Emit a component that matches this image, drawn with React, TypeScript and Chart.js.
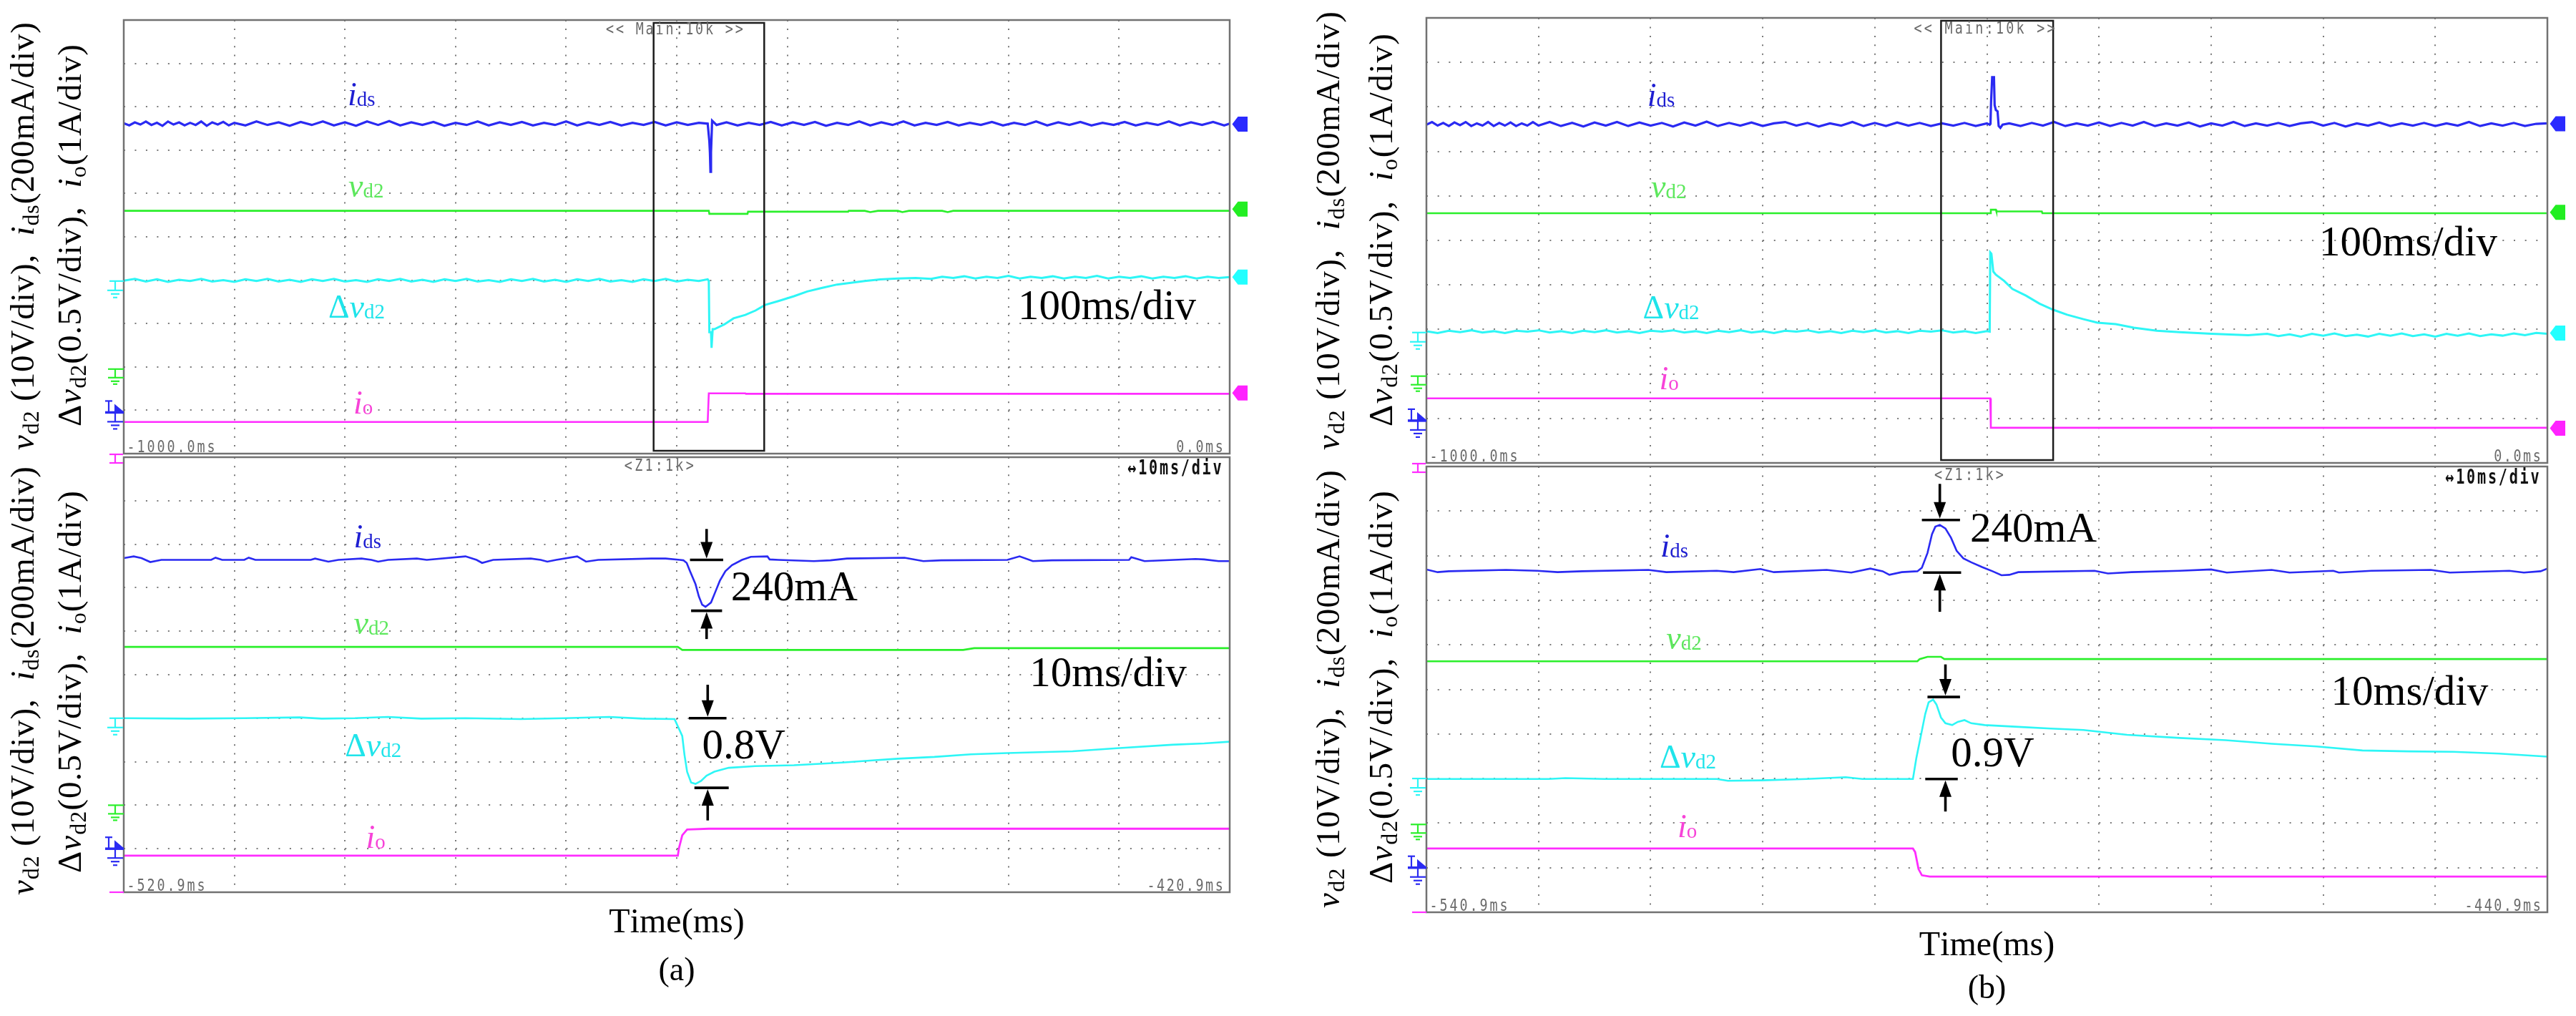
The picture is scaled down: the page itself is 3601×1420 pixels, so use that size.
import React, { useEffect, useRef } from "react";
import { Chart, registerables } from "chart.js";

Chart.register(...registerables);

type P = [number, number];

// ---------------- axis ticks (ms on x, screen divisions on y) ----------------
const xTicksMain = [-1000, -900, -800, -700, -600, -500, -400, -300, -200, -100, 0];
const xTicksZoomA = [-520.9, -510.9, -500.9, -490.9, -480.9, -470.9, -460.9, -450.9, -440.9, -430.9, -420.9];
const xTicksZoomB = [-540.9, -530.9, -520.9, -510.9, -500.9, -490.9, -480.9, -470.9, -460.9, -450.9, -440.9];
const yDivTicks = [0, 1, 2, 3, 4, 5, 6, 7, 8, 9, 10];

// ---------------- (a) main window: -1000 ms .. 0 ms ----------------
const aTopIds: P[] = [
  [-1000, 7.62], [-995, 7.57], [-990, 7.64], [-985, 7.59], [-980, 7.66], [-975, 7.58], [-970, 7.63], [-965, 7.56], [-960, 7.66], [-955, 7.59],
  [-950, 7.64], [-945, 7.57], [-940, 7.63], [-935, 7.58], [-930, 7.66], [-925, 7.56], [-920, 7.64], [-915, 7.59], [-910, 7.65], [-905, 7.57],
  [-900, 7.63], [-890, 7.57], [-880, 7.66], [-870, 7.58], [-860, 7.64], [-850, 7.56], [-840, 7.65], [-830, 7.58], [-820, 7.66], [-810, 7.57],
  [-800, 7.64], [-790, 7.56], [-780, 7.66], [-770, 7.58], [-760, 7.67], [-750, 7.57], [-740, 7.64], [-730, 7.58], [-720, 7.65], [-710, 7.56],
  [-700, 7.63], [-690, 7.58], [-680, 7.66], [-670, 7.57], [-660, 7.64], [-650, 7.58], [-640, 7.65], [-630, 7.57], [-620, 7.63], [-610, 7.58],
  [-600, 7.66], [-590, 7.57], [-580, 7.64], [-570, 7.58], [-560, 7.65], [-550, 7.57], [-540, 7.63], [-530, 7.58], [-520, 7.65], [-510, 7.57],
  [-500, 7.64], [-490, 7.58], [-480, 7.63], [-472, 7.61], [-470.5, 7.2], [-470, 6.95], [-469.5, 6.5], [-469, 6.95], [-468.5, 7.3], [-468, 7.68],
  [-464, 7.58], [-455, 7.64], [-445, 7.57], [-435, 7.63], [-425, 7.58], [-415, 7.65], [-405, 7.57], [-395, 7.64], [-385, 7.58], [-375, 7.65],
  [-365, 7.56], [-355, 7.63], [-345, 7.58], [-335, 7.66], [-325, 7.57], [-315, 7.64], [-305, 7.58], [-295, 7.66], [-285, 7.57], [-275, 7.63],
  [-265, 7.58], [-255, 7.65], [-245, 7.57], [-235, 7.63], [-225, 7.58], [-215, 7.65], [-205, 7.57], [-195, 7.63], [-185, 7.58], [-175, 7.66],
  [-165, 7.57], [-155, 7.64], [-145, 7.58], [-135, 7.65], [-125, 7.57], [-115, 7.63], [-105, 7.58], [-95, 7.65], [-85, 7.57], [-75, 7.63],
  [-65, 7.58], [-55, 7.66], [-45, 7.57], [-35, 7.64], [-25, 7.58], [-15, 7.65], [-5, 7.57], [0, 7.61],
];
const aTopVd2: P[] = [
  [-1000, 5.6], [-471, 5.6], [-470.5, 5.53], [-436, 5.53], [-435.5, 5.58], [-345, 5.58], [-344.5, 5.6], [-330, 5.6], [-325, 5.57],
  [-318, 5.6], [-300, 5.6], [-296, 5.57], [-290, 5.6], [-260, 5.6], [-255, 5.57], [-250, 5.6], [0, 5.6],
];
const aTopDvd2: P[] = [
  [-1000, 3.99], [-990, 4.03], [-980, 3.97], [-970, 4.02], [-960, 3.96], [-950, 4.01], [-940, 3.98], [-930, 4.03], [-920, 3.97], [-910, 4.0],
  [-900, 3.96], [-890, 4.02], [-880, 3.98], [-870, 4.03], [-860, 3.97], [-850, 4.01], [-840, 3.96], [-830, 4.02], [-820, 3.98], [-810, 4.03],
  [-800, 3.97], [-790, 4.0], [-780, 3.96], [-770, 4.02], [-760, 3.98], [-750, 4.03], [-740, 3.97], [-730, 4.01], [-720, 3.96], [-710, 4.02],
  [-700, 3.98], [-690, 4.03], [-680, 3.97], [-670, 4.0], [-660, 3.96], [-650, 4.02], [-640, 3.98], [-630, 4.03], [-620, 3.97], [-610, 4.01],
  [-600, 3.96], [-590, 4.02], [-580, 3.98], [-570, 4.03], [-560, 3.97], [-550, 4.0], [-540, 3.96], [-530, 4.02], [-520, 3.98], [-510, 4.03],
  [-500, 3.97], [-490, 4.01], [-480, 3.98], [-472, 4.02], [-471, 3.98], [-470.5, 2.8], [-469, 2.8], [-468.5, 2.44], [-467.5, 2.87], [-465.9, 2.87],
  [-457, 2.98], [-448.6, 3.12], [-438, 3.2], [-428.8, 3.3], [-420, 3.43], [-408, 3.52], [-394, 3.63], [-382, 3.74], [-369, 3.82], [-355, 3.9],
  [-345, 3.93], [-330, 3.98], [-316, 4.02], [-300, 4.04], [-284, 4.05], [-270, 4.03], [-260, 4.08], [-250, 4.05], [-240, 4.09], [-230, 4.04],
  [-220, 4.08], [-210, 4.05], [-200, 4.1], [-190, 4.04], [-180, 4.08], [-170, 4.05], [-160, 4.09], [-150, 4.04], [-140, 4.08], [-130, 4.05],
  [-120, 4.1], [-110, 4.04], [-100, 4.08], [-90, 4.05], [-80, 4.09], [-70, 4.04], [-60, 4.08], [-50, 4.05], [-40, 4.09], [-30, 4.04],
  [-20, 4.08], [-10, 4.05], [0, 4.07],
];
const aTopIo: P[] = [[-1000, 0.73], [-472, 0.73], [-471, 1.39], [-438, 1.39], [-437.5, 1.38], [0, 1.38]];

// ---------------- (a) zoom window: -520.9 ms .. -420.9 ms ----------------
const aBotIds: P[] = [
  [-520.9, 7.68], [-520, 7.72], [-519.3, 7.68], [-518.5, 7.59], [-517.5, 7.64], [-513, 7.64], [-512.6, 7.69], [-512, 7.64], [-510, 7.64],
  [-509.6, 7.69], [-509, 7.64], [-504, 7.64], [-503.6, 7.67], [-502.4, 7.6], [-501.5, 7.64], [-499.4, 7.67], [-498.5, 7.64], [-497.9, 7.6],
  [-497, 7.64], [-494.4, 7.67], [-493.5, 7.64], [-490, 7.72], [-489, 7.64], [-488.5, 7.57], [-487.5, 7.64], [-484.1, 7.67], [-483.2, 7.64],
  [-482.6, 7.6], [-481.8, 7.64], [-479.9, 7.72], [-479.1, 7.6], [-478, 7.64], [-473.2, 7.67], [-471.9, 7.67], [-470.6, 7.64], [-470.3, 7.63],
  [-470, 7.57], [-469.7, 7.38], [-469.2, 7.08], [-468.9, 6.8], [-468.6, 6.61], [-468.3, 6.56], [-467.8, 6.66], [-467.4, 6.91], [-467, 7.16],
  [-466.5, 7.38], [-465.9, 7.52], [-465, 7.64], [-464.2, 7.71], [-462.7, 7.72], [-462.5, 7.65], [-461.7, 7.64], [-458.5, 7.61], [-457, 7.63],
  [-455.5, 7.67], [-450.3, 7.69], [-448.6, 7.61], [-447, 7.63], [-441, 7.64], [-439.9, 7.72], [-438.7, 7.61], [-437, 7.63], [-430, 7.64],
  [-429.8, 7.7], [-428.6, 7.61], [-424, 7.66], [-423.2, 7.65], [-421.9, 7.61], [-420.9, 7.61],
];
const aBotVd2: P[] = [[-520.9, 5.64], [-470.8, 5.64], [-470.4, 5.57], [-445, 5.57], [-444, 5.61], [-420.9, 5.61]];
const aBotDvd2: P[] = [
  [-520.9, 4.0], [-515, 3.99], [-510, 4.0], [-505, 4.02], [-503, 3.99], [-500, 4.0], [-497, 4.03], [-494, 3.99], [-490, 4.0], [-485, 3.98],
  [-481, 4.0], [-477, 4.03], [-474, 3.99], [-471.1, 3.98], [-470.4, 3.59], [-470.2, 3.16], [-469.96, 2.77], [-469.6, 2.52], [-469.2, 2.49],
  [-468.7, 2.56], [-468.2, 2.68], [-467.5, 2.77], [-466.2, 2.86], [-463.8, 2.9], [-460.3, 2.92], [-455.9, 2.98], [-453.2, 3.03], [-450.9, 3.07],
  [-447.6, 3.11], [-444.3, 3.17], [-441, 3.2], [-435.1, 3.24], [-431.1, 3.31], [-426.1, 3.39], [-423.2, 3.42], [-420.9, 3.46],
];
const aBotIo: P[] = [[-520.9, 0.84], [-470.8, 0.84], [-470.7, 1.01], [-470.4, 1.31], [-469.96, 1.44], [-468, 1.46], [-420.9, 1.46]];

// ---------------- (b) main window ----------------
const bTopIds: P[] = [
  [-1000, 7.6], [-995, 7.66], [-990, 7.58], [-985, 7.64], [-980, 7.57], [-975, 7.65], [-970, 7.59], [-965, 7.66], [-960, 7.57], [-955, 7.63],
  [-950, 7.58], [-945, 7.66], [-940, 7.57], [-935, 7.64], [-930, 7.58], [-925, 7.65], [-920, 7.57], [-915, 7.63], [-910, 7.58], [-905, 7.66],
  [-900, 7.58], [-890, 7.66], [-880, 7.57], [-870, 7.64], [-860, 7.56], [-850, 7.65], [-840, 7.58], [-830, 7.66], [-820, 7.57], [-810, 7.65],
  [-800, 7.58], [-790, 7.64], [-780, 7.56], [-770, 7.65], [-760, 7.58], [-750, 7.67], [-740, 7.57], [-730, 7.64], [-720, 7.58], [-710, 7.65],
  [-700, 7.57], [-690, 7.63], [-680, 7.66], [-670, 7.58], [-660, 7.64], [-650, 7.56], [-640, 7.63], [-630, 7.58], [-620, 7.66], [-610, 7.57],
  [-600, 7.64], [-590, 7.57], [-580, 7.65], [-570, 7.58], [-560, 7.64], [-550, 7.57], [-540, 7.63], [-530, 7.58], [-520, 7.64], [-510, 7.57],
  [-500, 7.63], [-497.5, 7.6], [-496.8, 7.62], [-496.3, 8.1], [-495.3, 8.67], [-493.7, 8.67], [-493.1, 8.04], [-492, 7.93], [-490.5, 7.9],
  [-489.5, 7.57], [-488, 7.53], [-486, 7.6], [-480, 7.63], [-470, 7.57], [-460, 7.64], [-450, 7.58], [-440, 7.66], [-430, 7.57], [-420, 7.63],
  [-410, 7.58], [-400, 7.65], [-390, 7.57], [-380, 7.64], [-370, 7.58], [-360, 7.66], [-350, 7.57], [-340, 7.63], [-330, 7.58], [-320, 7.65],
  [-310, 7.56], [-300, 7.63], [-290, 7.58], [-280, 7.66], [-270, 7.57], [-260, 7.63], [-250, 7.58], [-240, 7.64], [-230, 7.57], [-220, 7.63],
  [-210, 7.66], [-200, 7.58], [-190, 7.64], [-180, 7.56], [-170, 7.63], [-160, 7.58], [-150, 7.65], [-140, 7.57], [-130, 7.63], [-120, 7.58],
  [-110, 7.64], [-100, 7.57], [-90, 7.63], [-80, 7.58], [-70, 7.66], [-60, 7.57], [-50, 7.63], [-40, 7.58], [-30, 7.64], [-20, 7.57],
  [-10, 7.62], [0, 7.63],
];
const bTopVd2: P[] = [[-1000, 5.61], [-497, 5.61], [-496.5, 5.69], [-492, 5.69], [-491.5, 5.65], [-451, 5.65], [-450.5, 5.61], [0, 5.61]];
const bTopDvd2: P[] = [
  [-1000, 2.96], [-990, 2.92], [-980, 2.97], [-970, 2.94], [-960, 2.98], [-950, 2.93], [-940, 2.96], [-930, 2.92], [-920, 2.97], [-910, 2.95],
  [-900, 2.98], [-890, 2.93], [-880, 2.96], [-870, 2.92], [-860, 2.97], [-850, 2.94], [-840, 2.98], [-830, 2.93], [-820, 2.96], [-810, 2.92],
  [-800, 2.97], [-790, 2.95], [-780, 2.98], [-770, 2.93], [-760, 2.96], [-750, 2.92], [-740, 2.97], [-730, 2.94], [-720, 2.98], [-710, 2.93],
  [-700, 2.96], [-690, 2.92], [-680, 2.97], [-670, 2.95], [-660, 2.98], [-650, 2.93], [-640, 2.96], [-630, 2.92], [-620, 2.97], [-610, 2.94],
  [-600, 2.98], [-590, 2.93], [-580, 2.96], [-570, 2.92], [-560, 2.97], [-550, 2.95], [-540, 2.98], [-530, 2.93], [-520, 2.96], [-510, 2.92],
  [-500, 2.96], [-497.5, 2.95], [-497, 4.73], [-496, 4.7], [-495.8, 4.66], [-494.3, 4.3], [-492, 4.23], [-484.6, 4.09], [-477.3, 3.91],
  [-465.2, 3.76], [-453.1, 3.58], [-440.7, 3.44], [-428.4, 3.33], [-413.8, 3.23], [-401.4, 3.15], [-385.1, 3.12], [-368.9, 3.04],
  [-348.4, 2.97], [-328, 2.94], [-299.5, 2.9], [-266.9, 2.87], [-250, 2.9], [-240, 2.85], [-230, 2.89], [-220, 2.84], [-210, 2.9],
  [-200, 2.86], [-190, 2.91], [-180, 2.85], [-170, 2.88], [-160, 2.84], [-150, 2.9], [-140, 2.86], [-130, 2.91], [-120, 2.85], [-110, 2.89],
  [-100, 2.84], [-90, 2.9], [-80, 2.86], [-70, 2.91], [-60, 2.85], [-50, 2.89], [-40, 2.86], [-30, 2.91], [-20, 2.87], [-10, 2.92], [0, 2.9],
];
const bTopIo: P[] = [[-1000, 1.45], [-497, 1.45], [-496.5, 0.79], [0, 0.79]];

// ---------------- (b) zoom window: -540.9 ms .. -440.9 ms ----------------
const bBotIds: P[] = [
  [-540.9, 7.69], [-539.9, 7.63], [-538.9, 7.65], [-533.8, 7.68], [-531, 7.66], [-529.2, 7.63], [-527, 7.65], [-521.1, 7.68], [-519.5, 7.63],
  [-515, 7.66], [-513.5, 7.63], [-511.1, 7.7], [-509.9, 7.63], [-505.2, 7.68], [-503, 7.62], [-501.3, 7.71], [-500.2, 7.65], [-499.6, 7.57],
  [-498.5, 7.63], [-497.1, 7.65], [-496.7, 7.73], [-496.2, 8.06], [-495.8, 8.48], [-495.5, 8.65], [-495.1, 8.69], [-494.6, 8.61],
  [-494.1, 8.4], [-493.6, 8.11], [-493, 7.94], [-492.3, 7.85], [-491.3, 7.74], [-490.4, 7.65], [-489.6, 7.56], [-488.9, 7.57], [-488.1, 7.63],
  [-481.3, 7.66], [-480.1, 7.6], [-478, 7.63], [-473.7, 7.66], [-470.9, 7.69], [-469.5, 7.62], [-465.5, 7.68], [-463.9, 7.62], [-460, 7.66],
  [-459.5, 7.62], [-456.6, 7.66], [-451.3, 7.68], [-449.6, 7.62], [-444.3, 7.66], [-443, 7.62], [-441.5, 7.65], [-440.9, 7.71],
];
const bBotVd2: P[] = [[-540.9, 5.63], [-497.1, 5.63], [-496.9, 5.68], [-496.2, 5.73], [-495, 5.73], [-494.7, 5.68], [-440.9, 5.68]];
const bBotDvd2: P[] = [
  [-540.9, 2.99], [-530, 2.99], [-528.5, 3.01], [-525, 2.99], [-515, 2.99], [-514, 2.95], [-511, 2.96], [-507, 2.99], [-503.5, 3.03],
  [-502, 2.99], [-497.5, 2.99], [-497.2, 3.45], [-496.8, 3.95], [-496.4, 4.45], [-496.1, 4.71], [-495.7, 4.77], [-495.4, 4.66], [-495, 4.37],
  [-494.6, 4.24], [-494, 4.2], [-493.5, 4.27], [-492.9, 4.31], [-492.3, 4.24], [-491.1, 4.2], [-488.1, 4.16], [-485.2, 4.12], [-482.3, 4.09],
  [-478.4, 3.98], [-473.7, 3.91], [-469.6, 3.86], [-465.5, 3.78], [-461.5, 3.72], [-457.4, 3.63], [-453.3, 3.61], [-449.3, 3.6],
  [-445.2, 3.56], [-440.9, 3.49],
];
const bBotIo: P[] = [[-540.9, 1.43], [-497.5, 1.43], [-497.3, 1.35], [-497, 0.97], [-496.7, 0.83], [-496, 0.8], [-440.9, 0.8]];

// channel reference markers (right edge of main window), in divisions
const aTopMarkerLevels = [7.6, 5.64, 4.07, 1.4];
const bTopMarkerLevels = [7.62, 5.63, 2.92, 0.78];

// ---------------- styles ----------------
const SERIF = '"Liberation Serif","Times New Roman",serif';
const MONO = '"DejaVu Sans Mono",monospace';
const C = { ids: "#2a2af2", vd2: "#2bef2b", dvd2: "#2ef6f6", io: "#ff2cff" };
const LC = { ids: "#1e1ed2", vd2: "#5de85d", dvd2: "#1fe4ea", io: "#f743d8" };
const MARKER_COLORS = ["#2a2aff", "#22ee22", "#22ffff", "#ff22ff"];
const GRID = "#7a7a7a";
const FRAME = "#727272";
const GRAY_TXT = "#6a6a6a";

type Run = { t: string; size: number; italic?: boolean; bold?: boolean; dy?: number; color?: string; family?: string };
const fontOf = (r: Run) => `${r.italic ? "italic " : ""}${r.bold ? "bold " : ""}${r.size}px ${r.family || SERIF}`;

function drawRuns(
  ctx: CanvasRenderingContext2D,
  runs: Run[],
  x: number,
  y: number,
  opt: { rotate?: boolean; target?: number; align?: string; baseline?: CanvasTextBaseline } = {}
) {
  ctx.save();
  ctx.translate(x, y);
  if (opt.rotate) ctx.rotate(-Math.PI / 2);
  ctx.textAlign = "left";
  ctx.textBaseline = opt.baseline || "alphabetic";
  const items: { ch: string; w: number; r: Run }[] = [];
  let total = 0;
  for (const r of runs) {
    ctx.font = fontOf(r);
    for (const ch of Array.from(r.t)) {
      const w = ctx.measureText(ch).width;
      items.push({ ch, w, r });
      total += w;
    }
  }
  const gap = opt.target && items.length > 1 ? (opt.target - total) / (items.length - 1) : 0;
  const full = total + gap * (items.length - 1);
  let cx = opt.align === "center" ? -full / 2 : opt.align === "right" ? -full : 0;
  for (const it of items) {
    ctx.font = fontOf(it.r);
    ctx.fillStyle = it.r.color || "#000";
    ctx.fillText(it.ch, cx, it.r.dy || 0);
    cx += it.w + gap;
  }
  ctx.restore();
}

function drawMono(
  ctx: CanvasRenderingContext2D,
  text: string,
  x: number,
  y: number,
  adv: number,
  align: string,
  font: string,
  color: string,
  baseline: CanvasTextBaseline,
  squeeze: number
) {
  ctx.save();
  ctx.font = font;
  ctx.fillStyle = color;
  ctx.textBaseline = baseline;
  ctx.textAlign = "center";
  const chars = Array.from(text);
  const w = adv * chars.length;
  const sx = align === "left" ? x : align === "right" ? x - w : x - w / 2;
  chars.forEach((c, i) => {
    ctx.save();
    ctx.translate(sx + adv * (i + 0.5), y);
    ctx.scale(squeeze, 1);
    ctx.fillText(c, 0, 0);
    ctx.restore();
  });
  ctx.restore();
}

const lblIds: Run[] = [{ t: "i", size: 46, italic: true, color: LC.ids }, { t: "ds", size: 29, color: LC.ids, dy: 1 }];
const lblVd2: Run[] = [{ t: "v", size: 46, italic: true, color: LC.vd2 }, { t: "d2", size: 29, color: LC.vd2, dy: 1 }];
const lblDvd2: Run[] = [
  { t: "Δ", size: 46, color: LC.dvd2 },
  { t: "v", size: 46, italic: true, color: LC.dvd2 },
  { t: "d2", size: 29, color: LC.dvd2, dy: 1 },
];
const lblIo: Run[] = [{ t: "i", size: 46, italic: true, color: LC.io }, { t: "o", size: 29, color: LC.io, dy: 1 }];

const AF = 47;
const AS = 32;
const axisLine1: Run[] = [
  { t: "v", size: AF, italic: true }, { t: "d2", size: AS, dy: 7 }, { t: " (10V/div),  ", size: AF },
  { t: "i", size: AF, italic: true }, { t: "ds", size: AS, dy: 7 }, { t: "(200mA/div)", size: AF },
];
const axisLine2: Run[] = [
  { t: "Δ", size: AF }, { t: "v", size: AF, italic: true }, { t: "d2", size: AS, dy: 7 }, { t: "(0.5V/div),  ", size: AF },
  { t: "i", size: AF, italic: true }, { t: "o", size: AS, dy: 7 }, { t: "(1A/div)", size: AF },
];

type Arrow = { x: number; top: number; bar1: number; bar1x: number[]; bar2: number; bar2x: number[]; bottom: number };
type Ground = { kind: string; color: string; y?: number };
type Decor = {
  labels: { runs: Run[]; x: number; y: number }[];
  bigTexts: { t: string; x: number; y: number }[];
  header: { t: string; x: number; dy: number; adv: number };
  rightHeader?: string;
  leftTime: string;
  rightTime: string;
  markers?: number[];
  grounds: Ground[];
  box?: number[];
  arrows?: Arrow[];
  axis: { l1x: number; l1y: number; l1len: number; l2x: number; l2y: number; l2len: number };
  footer?: { t1dy: number; t2dy: number; t2: string };
};

function makeDecor(d: Decor) {
  return {
    id: "scopeDecor",
    afterDraw(chart: any) {
      const ctx: CanvasRenderingContext2D = chart.ctx;
      const a = chart.chartArea;
      const xs = chart.scales.x;
      const ys = chart.scales.y;
      const X = (v: number) => xs.getPixelForValue(v);
      const Y = (v: number) => ys.getPixelForValue(v);
      ctx.save();

      if (d.box) {
        ctx.strokeStyle = "#1c1c1c";
        ctx.lineWidth = 2.5;
        const x0 = X(d.box[0]);
        const x1 = X(d.box[1]);
        ctx.strokeRect(x0, a.top + 4, x1 - x0, a.bottom - a.top - 8);
      }

      ctx.strokeStyle = FRAME;
      ctx.lineWidth = 2.5;
      ctx.strokeRect(a.left, a.top, a.right - a.left, a.bottom - a.top);

      if (d.markers) {
        d.markers.forEach((lv, i) => {
          const y = Y(lv);
          const x0 = a.right + 3.5;
          ctx.fillStyle = MARKER_COLORS[i];
          ctx.beginPath();
          ctx.moveTo(x0, y);
          ctx.lineTo(x0 + 8, y - 10.5);
          ctx.lineTo(x0 + 21.5, y - 10.5);
          ctx.lineTo(x0 + 21.5, y + 10.5);
          ctx.lineTo(x0 + 8, y + 10.5);
          ctx.closePath();
          ctx.fill();
        });
      }

      const L = a.left;
      const hl = (y: number, x0: number, x1: number, w = 2.2) => {
        ctx.lineWidth = w;
        ctx.beginPath();
        ctx.moveTo(x0, y);
        ctx.lineTo(x1, y);
        ctx.stroke();
      };
      const vl = (x: number, y0: number, y1: number, w = 2.2) => {
        ctx.lineWidth = w;
        ctx.beginPath();
        ctx.moveTo(x, y0);
        ctx.lineTo(x, y1);
        ctx.stroke();
      };
      const gndBars = (y: number) => {
        hl(y, L - 23, L - 1);
        hl(y + 5, L - 18, L - 6);
        hl(y + 10, L - 15, L - 9);
      };
      for (const g of d.grounds) {
        ctx.strokeStyle = g.color;
        ctx.fillStyle = g.color;
        if (g.kind === "gnd") {
          const y = Y(g.y as number);
          hl(y, L - 20, L);
          vl(L - 12, y, y + 13);
          gndBars(y + 13);
        } else if (g.kind === "I") {
          const y = Y(g.y as number);
          hl(y, L - 22, L);
          vl(L - 12, y, y + 12);
          hl(y + 12, L - 22, L);
          hl(y + 17, L - 18, L - 6);
          hl(y + 21, L - 15, L - 9);
        } else if (g.kind === "trig") {
          const y = Y(g.y as number);
          hl(y - 16, L - 26, L - 16);
          vl(L - 21, y - 16, y);
          ctx.beginPath();
          ctx.moveTo(L - 13, y - 12);
          ctx.lineTo(L, y - 1);
          ctx.lineTo(L - 13, y - 1);
          ctx.closePath();
          ctx.fill();
          hl(y, L - 26, L, 3.5);
          vl(L - 12, y, y + 13);
          gndBars(y + 13);
        } else if (g.kind === "mTop") {
          const y = a.top - 4;
          hl(y, L - 20, L - 1);
          vl(L - 12, y, y + 12);
          hl(y + 12, L - 20, L - 1);
        } else if (g.kind === "mBottom") {
          hl(a.bottom, L - 20, L);
        }
      }

      // oscilloscope screen annotations
      const monoFont = `23px ${MONO}`;
      drawMono(ctx, d.header.t, X(d.header.x), a.top + d.header.dy, d.header.adv, "center", monoFont, GRAY_TXT, "middle", 0.8);
      drawMono(ctx, d.leftTime, a.left + 3, a.bottom - 2, 14, "left", monoFont, GRAY_TXT, "alphabetic", 0.8);
      drawMono(ctx, d.rightTime, a.right - 8, a.bottom - 2, 13.6, "right", monoFont, GRAY_TXT, "alphabetic", 0.8);
      if (d.rightHeader) {
        drawMono(ctx, d.rightHeader, a.right - 10, a.top + 17, 14.9, "right", `bold 28px ${MONO}`, "#111", "middle", 0.72);
      }

      // channel labels
      for (const lb of d.labels) drawRuns(ctx, lb.runs, X(lb.x), Y(lb.y));

      // big black annotations
      for (const bt of d.bigTexts) drawRuns(ctx, [{ t: bt.t, size: 59, color: "#000" }], X(bt.x), Y(bt.y));

      // dimension arrows
      if (d.arrows) {
        ctx.strokeStyle = "#000";
        ctx.fillStyle = "#000";
        const head = (x: number, tip: number, dir: number) => {
          ctx.beginPath();
          ctx.moveTo(x, tip);
          ctx.lineTo(x - 8.5, tip - dir * 23);
          ctx.lineTo(x + 8.5, tip - dir * 23);
          ctx.closePath();
          ctx.fill();
        };
        for (const ar of d.arrows) {
          const x = X(ar.x);
          const b1 = Y(ar.bar1);
          const b2 = Y(ar.bar2);
          hl(b1, X(ar.bar1x[0]), X(ar.bar1x[1]), 3.6);
          hl(b2, X(ar.bar2x[0]), X(ar.bar2x[1]), 3.6);
          vl(x, Y(ar.top), b1 - 20, 3.6);
          head(x, b1 - 2, 1);
          vl(x, Y(ar.bottom), b2 + 20, 3.6);
          head(x, b2 + 2, -1);
        }
      }

      // rotated y-axis label (two lines)
      const ax = d.axis;
      drawRuns(ctx, axisLine1, a.left + ax.l1x, a.bottom + ax.l1y, { rotate: true, target: ax.l1len });
      drawRuns(ctx, axisLine2, a.left + ax.l2x, a.bottom + ax.l2y, { rotate: true, target: ax.l2len });

      if (d.footer) {
        const cx = (a.left + a.right) / 2;
        drawRuns(ctx, [{ t: "Time(ms)", size: 48 }], cx, a.bottom + d.footer.t1dy, { align: "center", baseline: "middle" });
        drawRuns(ctx, [{ t: d.footer.t2, size: 46 }], cx, a.bottom + d.footer.t2dy, { align: "center", baseline: "middle" });
      }
      ctx.restore();
    },
  };
}

type Scope = {
  left: number;
  width: number;
  pad: { left: number; top: number; right: number; bottom: number };
  xMin: number;
  xMax: number;
  xTicks: number[];
  hDash: number[];
  vDash: number[];
  series: { data: P[]; color: string; width: number }[];
  decor: Decor;
};

const SCOPES: Scope[] = [
  {
    left: 0,
    width: 1800,
    pad: { left: 173, top: 28, right: 81, bottom: 786 },
    xMin: -1000,
    xMax: 0,
    xTicks: xTicksMain,
    hDash: [2, 13.46],
    vDash: [2, 10.12],
    series: [
      { data: aTopIds, color: C.ids, width: 3.2 },
      { data: aTopVd2, color: C.vd2, width: 2.6 },
      { data: aTopDvd2, color: C.dvd2, width: 3 },
      { data: aTopIo, color: C.io, width: 2.6 },
    ],
    decor: {
      labels: [
        { runs: lblIds, x: -797.5, y: 8.04 },
        { runs: lblVd2, x: -796.9, y: 5.93 },
        { runs: lblDvd2, x: -815, y: 3.14 },
        { runs: lblIo, x: -792.4, y: 0.92 },
      ],
      bigTexts: [{ t: "100ms/div", x: -191.5, y: 3.1 }],
      header: { t: "<< Main:10k >>", x: -502, dy: 14, adv: 13.9 },
      leftTime: "-1000.0ms",
      rightTime: "0.0ms",
      markers: aTopMarkerLevels,
      grounds: [
        { kind: "gnd", color: C.dvd2, y: 3.98 },
        { kind: "I", color: C.vd2, y: 1.95 },
        { kind: "trig", color: C.ids, y: 0.95 },
      ],
      box: [-520.9, -420.9],
      axis: { l1x: -126, l1y: -5, l1len: 598, l2x: -60, l2y: -38, l2len: 534 },
    },
  },
  {
    left: 0,
    width: 1800,
    pad: { left: 173, top: 639, right: 81, bottom: 173 },
    xMin: -520.9,
    xMax: -420.9,
    xTicks: xTicksZoomA,
    hDash: [2, 13.46],
    vDash: [2, 10.16],
    series: [
      { data: aBotIds, color: C.ids, width: 2.6 },
      { data: aBotVd2, color: C.vd2, width: 2.6 },
      { data: aBotDvd2, color: C.dvd2, width: 2.6 },
      { data: aBotIo, color: C.io, width: 2.8 },
    ],
    decor: {
      labels: [
        { runs: lblIds, x: -500.1, y: 7.93 },
        { runs: lblVd2, x: -500.1, y: 5.93 },
        { runs: lblDvd2, x: -500.9, y: 3.13 },
        { runs: lblIo, x: -499.0, y: 1.02 },
      ],
      bigTexts: [
        { t: "10ms/div", x: -439.0, y: 4.73 },
        { t: "240mA", x: -466.0, y: 6.71 },
        { t: "0.8V", x: -468.6, y: 3.08 },
      ],
      header: { t: "<Z1:1k>", x: -472.5, dy: 13, adv: 14.3 },
      rightHeader: "↔10ms/div",
      leftTime: "-520.9ms",
      rightTime: "-420.9ms",
      grounds: [
        { kind: "gnd", color: C.dvd2, y: 4.0 },
        { kind: "I", color: C.vd2, y: 2.0 },
        { kind: "trig", color: C.ids, y: 1.0 },
        { kind: "mTop", color: C.io },
        { kind: "mBottom", color: C.io },
      ],
      arrows: [
        { x: -468.2, top: 8.35, bar1: 7.64, bar1x: [-469.7, -466.7], bar2: 6.47, bar2x: [-469.6, -466.8], bottom: 5.82 },
        { x: -468.1, top: 4.77, bar1: 4.0, bar1x: [-469.8, -466.4], bar2: 2.4, bar2x: [-469.3, -466.2], bottom: 1.65 },
      ],
      axis: { l1x: -126, l1y: 4, l1len: 599, l2x: -60, l2y: -27, l2len: 534 },
      footer: { t1dy: 43, t2dy: 111, t2: "(a)" },
    },
  },
  {
    left: 1800,
    width: 1801,
    pad: { left: 194, top: 25, right: 40, bottom: 773 },
    xMin: -1000,
    xMax: 0,
    xTicks: xTicksMain,
    hDash: [2, 13.67],
    vDash: [2, 10.44],
    series: [
      { data: bTopIds, color: C.ids, width: 3.2 },
      { data: bTopVd2, color: C.vd2, width: 2.6 },
      { data: bTopDvd2, color: C.dvd2, width: 3 },
      { data: bTopIo, color: C.io, width: 2.6 },
    ],
    decor: {
      labels: [
        { runs: lblIds, x: -803.0, y: 8.03 },
        { runs: lblVd2, x: -799.6, y: 5.96 },
        { runs: lblDvd2, x: -806.9, y: 3.25 },
        { runs: lblIo, x: -792.3, y: 1.66 },
      ],
      bigTexts: [{ t: "100ms/div", x: -203.6, y: 4.66 }],
      header: { t: "<< Main:10k >>", x: -502.2, dy: 16, adv: 14.3 },
      leftTime: "-1000.0ms",
      rightTime: "0.0ms",
      markers: bTopMarkerLevels,
      grounds: [
        { kind: "gnd", color: C.dvd2, y: 2.93 },
        { kind: "I", color: C.vd2, y: 1.95 },
        { kind: "trig", color: C.ids, y: 0.95 },
      ],
      box: [-540.9, -440.9],
      axis: { l1x: -122, l1y: -18, l1len: 613, l2x: -48, l2y: -51, l2len: 549 },
    },
  },
  {
    left: 1800,
    width: 1801,
    pad: { left: 194, top: 652, right: 40, bottom: 145 },
    xMin: -540.9,
    xMax: -440.9,
    xTicks: xTicksZoomB,
    hDash: [2, 13.67],
    vDash: [2, 10.46],
    series: [
      { data: bBotIds, color: C.ids, width: 2.6 },
      { data: bBotVd2, color: C.vd2, width: 2.6 },
      { data: bBotDvd2, color: C.dvd2, width: 2.6 },
      { data: bBotIo, color: C.io, width: 2.8 },
    ],
    decor: {
      labels: [
        { runs: lblIds, x: -520.0, y: 7.98 },
        { runs: lblVd2, x: -519.5, y: 5.91 },
        { runs: lblDvd2, x: -520.1, y: 3.24 },
        { runs: lblIo, x: -518.5, y: 1.69 },
      ],
      bigTexts: [
        { t: "10ms/div", x: -460.2, y: 4.66 },
        { t: "240mA", x: -492.4, y: 8.31 },
        { t: "0.9V", x: -494.1, y: 3.28 },
      ],
      header: { t: "<Z1:1k>", x: -492.5, dy: 13, adv: 14.3 },
      rightHeader: "↔10ms/div",
      leftTime: "-540.9ms",
      rightTime: "-440.9ms",
      grounds: [
        { kind: "gnd", color: C.dvd2, y: 3.0 },
        { kind: "I", color: C.vd2, y: 1.97 },
        { kind: "trig", color: C.ids, y: 1.0 },
        { kind: "mTop", color: C.io },
        { kind: "mBottom", color: C.io },
      ],
      arrows: [
        { x: -495.1, top: 9.61, bar1: 8.8, bar1x: [-496.7, -493.3], bar2: 7.62, bar2x: [-496.6, -493.2], bottom: 6.74 },
        { x: -494.6, top: 5.56, bar1: 4.83, bar1x: [-496.2, -493.3], bar2: 2.99, bar2x: [-496.4, -493.5], bottom: 2.26 },
      ],
      axis: { l1x: -122, l1y: -6, l1len: 612, l2x: -48, l2y: -40, l2len: 549 },
      footer: { t1dy: 47, t2dy: 108, t2: "(b)" },
    },
  },
];

function buildChart(canvas: HTMLCanvasElement, s: Scope) {
  const edgeless = (n: number) => (c: any) => (c.index === 0 || c.index === n - 1 ? "rgba(0,0,0,0)" : GRID);
  return new Chart(canvas, {
    type: "line",
    data: {
      datasets: s.series.map((sr) => ({
        data: sr.data.map(([x, y]) => ({ x, y })),
        borderColor: sr.color,
        backgroundColor: sr.color,
        borderWidth: sr.width,
        pointRadius: 0,
        fill: false,
        tension: 0,
        borderCapStyle: "butt",
      })),
    },
    options: {
      responsive: false,
      maintainAspectRatio: false,
      animation: false,
      events: [],
      layout: { autoPadding: false, padding: s.pad },
      plugins: { legend: { display: false }, tooltip: { enabled: false }, title: { display: false } },
      scales: {
        x: {
          type: "linear",
          min: s.xMin,
          max: s.xMax,
          afterBuildTicks: (sc: any) => {
            sc.ticks = s.xTicks.map((v) => ({ value: v }));
          },
          afterFit: (sc: any) => {
            sc.height = 0;
          },
          ticks: { display: false },
          grid: { color: edgeless(s.xTicks.length), lineWidth: 2, drawTicks: false },
          border: { display: false, dash: s.vDash },
        },
        y: {
          type: "linear",
          min: 0,
          max: 10,
          afterBuildTicks: (sc: any) => {
            sc.ticks = yDivTicks.map((v) => ({ value: v }));
          },
          afterFit: (sc: any) => {
            sc.width = 0;
          },
          ticks: { display: false },
          grid: { color: edgeless(yDivTicks.length), lineWidth: 2, drawTicks: false },
          border: { display: false, dash: s.hDash },
        },
      },
    } as any,
    plugins: [makeDecor(s.decor) as any],
  });
}

export default function App() {
  const canvasRefs = useRef<(HTMLCanvasElement | null)[]>([]);
  useEffect(() => {
    const charts = SCOPES.map((s, i) => buildChart(canvasRefs.current[i] as HTMLCanvasElement, s));
    return () => charts.forEach((c) => c.destroy());
  }, []);
  return (
    <div style={{ position: "absolute", left: 0, top: 0, width: 3601, height: 1420, background: "#ffffff", overflow: "hidden" }}>
      {SCOPES.map((s, i) => (
        <canvas
          key={i}
          ref={(el) => {
            canvasRefs.current[i] = el;
          }}
          width={s.width}
          height={1420}
          style={{ position: "absolute", left: s.left, top: 0, width: s.width, height: 1420 }}
        />
      ))}
    </div>
  );
}
